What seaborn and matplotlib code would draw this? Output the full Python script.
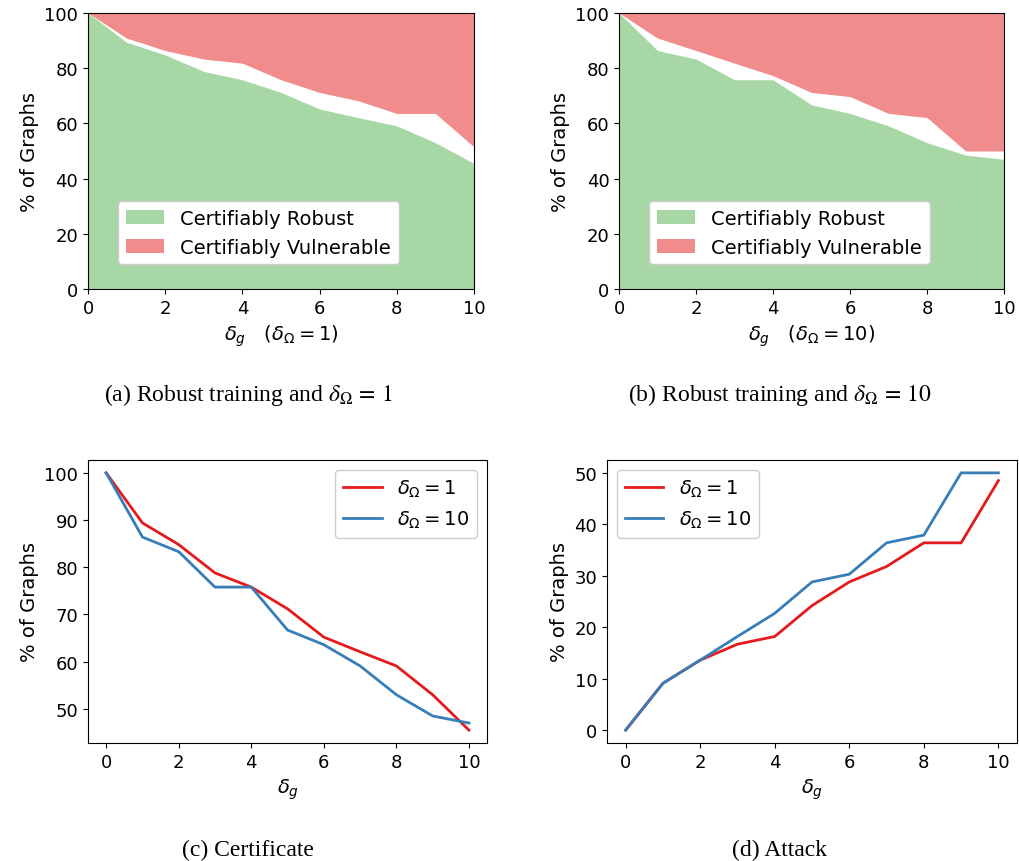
import numpy as np
import pandas as pd
import matplotlib
matplotlib.use("Agg")
import matplotlib.pyplot as plt
import seaborn as sns

# ==========================================
# DATA
# ==========================================
delta_g = [0, 1, 2, 3, 4, 5, 6, 7, 8, 9, 10]

# certified robust (% of graphs)
robust_w1 = [100, 89.4, 84.8, 78.8, 75.8, 71.2, 65.2, 62.1, 59.1, 53.0, 45.5]
robust_w10 = [100, 86.4, 83.3, 75.8, 75.8, 66.7, 63.6, 59.1, 53.0, 48.5, 47.0]

# certifiably vulnerable / successful attack (% of graphs)
vuln_w1 = [0, 9.1, 13.6, 16.7, 18.2, 24.2, 28.8, 31.8, 36.4, 36.4, 48.5]
vuln_w10 = [0, 9.1, 13.6, 18.2, 22.7, 28.8, 30.3, 36.4, 37.9, 50.0, 50.0]

series_labels = [r'$\delta_\Omega = 1$', r'$\delta_\Omega = 10$']
captions = [r'(a) Robust training and $\delta_\Omega\,=\,1$',
            r'(b) Robust training and $\delta_\Omega\,=\,10$',
            '(c) Certificate',
            '(d) Attack']

GREEN = '#a8d7a6'
RED = '#f08c8b'
LINE_COLORS = ['#e41a1c', '#377eb8']

plt.rcParams['font.size'] = 14
plt.rcParams['xtick.labelsize'] = 13
plt.rcParams['ytick.labelsize'] = 13
plt.rcParams['legend.framealpha'] = 1.0

fig = plt.figure(figsize=(10.2, 8.62), dpi=100)

ax_a = fig.add_axes([0.0863, 0.6636, 0.3784, 0.3202])
ax_b = fig.add_axes([0.6069, 0.6636, 0.3775, 0.3202])
ax_c = fig.add_axes([0.0863, 0.1369, 0.3912, 0.3283])
ax_d = fig.add_axes([0.5951, 0.1369, 0.4020, 0.3283])

# ------------------------------------------
# (a) / (b): stacked areas
# ------------------------------------------
for ax, robust, vuln, w in [(ax_a, robust_w1, vuln_w1, 1), (ax_b, robust_w10, vuln_w10, 10)]:
    x = np.array(delta_g)
    r = np.array(robust)
    v = np.array(vuln)
    ax.fill_between(x, 0, r, color=GREEN, linewidth=0, label='Certifiably Robust')
    ax.fill_between(x, 100 - v, 100, color=RED, linewidth=0, label='Certifiably Vulnerable')
    ax.set_xlim(0, 10)
    ax.set_ylim(0, 100)
    ax.set_ylabel('% of Graphs')
    ax.set_xlabel(r'$\delta_g$   $(\delta_\Omega = %d)$' % w)
    ax.legend(loc='lower left', bbox_to_anchor=(0.052, 0.054), fontsize=14)

# ------------------------------------------
# (c) / (d): line plots
# ------------------------------------------
df_cert = pd.DataFrame({
    'delta_g': delta_g * 2,
    'pct': robust_w1 + robust_w10,
    'setting': [series_labels[0]] * len(delta_g) + [series_labels[1]] * len(delta_g),
})
df_att = pd.DataFrame({
    'delta_g': delta_g * 2,
    'pct': vuln_w1 + vuln_w10,
    'setting': [series_labels[0]] * len(delta_g) + [series_labels[1]] * len(delta_g),
})

for ax, df, loc in [(ax_c, df_cert, 'upper right'), (ax_d, df_att, 'upper left')]:
    sns.lineplot(data=df, x='delta_g', y='pct', hue='setting', palette=LINE_COLORS,
                 linewidth=2, ax=ax)
    ax.set_xlabel(r'$\delta_g$')
    ax.set_ylabel('% of Graphs')
    ax.set_xticks([0, 2, 4, 6, 8, 10])
    ax.legend(title=None, loc=loc, fontsize=14)

ax_c.set_yticks([50, 60, 70, 80, 90, 100])
ax_d.set_yticks([0, 10, 20, 30, 40, 50])

# captions in serif, like the paper
cap_pos = [(248, 395), (780, 395), (248, 850), (780, 850)]
for (px, py), text in zip(cap_pos, captions):
    fig.text(px / 1020, 1 - py / 862, text, ha='center', va='center',
             family='Liberation Serif', math_fontfamily='stix', fontsize=17)

plt.savefig('out.png', dpi=100)
plt.close()
